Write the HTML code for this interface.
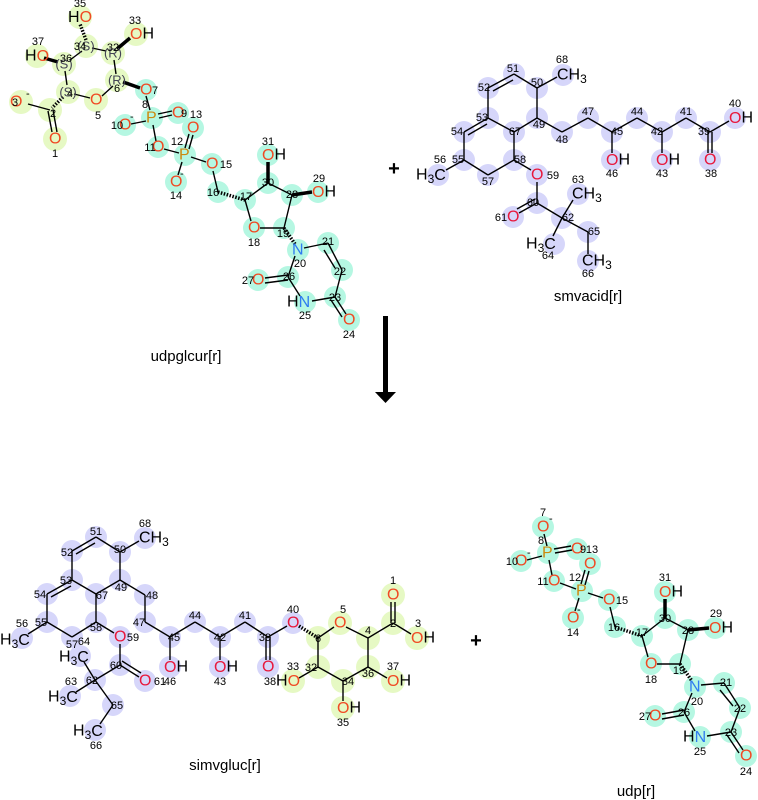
<!DOCTYPE html>
<html><head><meta charset="utf-8"><style>
html,body{margin:0;padding:0;background:#fff;}
svg{display:block;font-family:"Liberation Sans","DejaVu Sans",sans-serif;}
.g circle{fill:#e6f9c4}
.c circle{fill:#b5f7e2}
.v circle{fill:#d6d6fa}
line{stroke:#000;stroke-width:1.4}
.w{stroke-width:3.5}
.n{font-size:11px;text-anchor:middle;fill:#000}
.a{font-size:16px;dominant-baseline:central;fill:#000}
.st{font-size:13px;text-anchor:middle;dominant-baseline:central;fill:#445}
.O{fill:#f04a24}.Or{fill:#e8183c}.P{fill:#cc8a10}.N{fill:#2f7cf0}
.big{font-size:15px;text-anchor:middle;fill:#000}
</style></head><body>
<svg width="758" height="800" viewBox="0 0 758 800" xmlns="http://www.w3.org/2000/svg">
<!-- ========== udpglcur ========== -->
<g class="g">
<circle cx="80" cy="17" r="12"/><circle cx="136" cy="34" r="12"/><circle cx="37" cy="56" r="12"/>
<circle cx="86" cy="46" r="12"/><circle cx="113" cy="53" r="12"/><circle cx="64" cy="64" r="12"/>
<circle cx="117" cy="80" r="12"/><circle cx="68" cy="92" r="12"/><circle cx="96" cy="100" r="12"/>
<circle cx="21" cy="102" r="12"/><circle cx="50" cy="110" r="12"/><circle cx="55" cy="139" r="12"/>
</g>
<g class="c">
<circle cx="146" cy="90" r="11"/><circle cx="152" cy="118" r="11"/><circle cx="178" cy="113" r="11"/>
<circle cx="193" cy="128" r="11"/><circle cx="125" cy="125" r="11"/><circle cx="158" cy="147" r="11"/>
<circle cx="185" cy="155" r="11"/><circle cx="176" cy="182" r="11"/><circle cx="212" cy="164" r="11"/>
<circle cx="218" cy="192" r="11"/><circle cx="245" cy="200" r="11"/><circle cx="268" cy="183" r="11"/>
<circle cx="268" cy="155" r="11"/><circle cx="292" cy="195" r="11"/><circle cx="318" cy="192" r="11"/>
<circle cx="254" cy="228" r="11"/><circle cx="284" cy="228" r="11"/><circle cx="298" cy="250" r="11"/>
<circle cx="328" cy="243" r="11"/><circle cx="342" cy="270" r="11"/><circle cx="288" cy="277" r="11"/>
<circle cx="258" cy="280" r="11"/><circle cx="305" cy="302" r="11"/><circle cx="335" cy="297" r="11"/>
<circle cx="349" cy="320" r="11"/>
</g>
<g>
<line x1="86" y1="40" x2="80" y2="24" stroke-dasharray="1.5 1.5" class="w"/>
<line x1="92" y1="48" x2="106" y2="51"/><line x1="117" y1="49" x2="130" y2="38" class="w"/>
<line x1="82" y1="51" x2="70" y2="60"/><line x1="58" y1="62" x2="44" y2="58" class="w"/>
<line x1="65" y1="71" x2="67" y2="85"/><line x1="74" y1="94" x2="90" y2="98"/>
<line x1="102" y1="96" x2="113" y2="86"/><line x1="116" y1="74" x2="114" y2="60"/>
<line x1="123" y1="82" x2="140" y2="88" class="w"/>
<line x1="63" y1="97" x2="52" y2="108" stroke-dasharray="1.5 1.5" class="w"/>
<line x1="50" y1="110" x2="28" y2="104"/>
<line x1="48" y1="111" x2="52" y2="132"/><line x1="53" y1="110" x2="57" y2="132"/>
<line x1="146" y1="96" x2="150" y2="110"/>
<line x1="158" y1="114" x2="172" y2="111"/><line x1="159" y1="118" x2="172" y2="115"/>
<line x1="146" y1="121" x2="131" y2="124"/><line x1="153" y1="125" x2="156" y2="141"/>
<line x1="164" y1="149" x2="179" y2="153"/>
<line x1="185" y1="148" x2="189" y2="134"/><line x1="189" y1="149" x2="193" y2="135"/>
<line x1="182" y1="162" x2="178" y2="175"/><line x1="191" y1="157" x2="206" y2="162"/>
<line x1="213" y1="171" x2="218" y2="192"/>
<line x1="218" y1="192" x2="245" y2="200" stroke-dasharray="1.5 1.5" class="w"/>
<line x1="245" y1="200" x2="268" y2="183"/><line x1="268" y1="183" x2="268" y2="162" class="w"/>
<line x1="268" y1="183" x2="292" y2="195"/><line x1="292" y1="195" x2="312" y2="192" class="w"/>
<line x1="292" y1="195" x2="284" y2="228"/><line x1="284" y1="228" x2="260" y2="228"/>
<line x1="251" y1="221" x2="245" y2="200"/>
<line x1="284" y1="228" x2="295" y2="244" stroke-dasharray="1.5 1.5" class="w"/>
<line x1="304" y1="248" x2="328" y2="243"/>
<line x1="328" y1="243" x2="342" y2="270"/><line x1="324" y1="250" x2="335" y2="268"/>
<line x1="342" y1="270" x2="335" y2="297"/>
<line x1="335" y1="297" x2="346" y2="314"/><line x1="331" y1="300" x2="342" y2="317"/>
<line x1="335" y1="297" x2="312" y2="301"/><line x1="300" y1="296" x2="288" y2="277"/>
<line x1="288" y1="277" x2="295" y2="256"/>
<line x1="288" y1="275" x2="265" y2="278"/><line x1="288" y1="280" x2="265" y2="283"/>
</g>
<g>
<text class="st" x="86" y="46">(S)</text><text class="st" x="113" y="53">(R)</text>
<text class="st" x="64" y="64">(S)</text><text class="st" x="117" y="80">(R)</text>
<text class="st" x="68" y="92">(S)</text>
<text class="a" x="68" y="17"><tspan>H</tspan><tspan class="O">O</tspan></text>
<text class="a" x="130" y="34"><tspan class="O">O</tspan>H</text>
<text class="a" x="25" y="56">H<tspan class="O">O</tspan></text>
<text class="a O" x="10" y="102">O</text><text class="a" x="26" y="94" style="font-size:11px">-</text>
<text class="a O" x="49" y="139">O</text>
<text class="a O" x="90" y="100">O</text>
<text class="a O" x="140" y="90">O</text>
<text class="a P" x="146" y="118">P</text>
<text class="a O" x="172" y="113">O</text>
<text class="a O" x="187" y="128">O</text>
<text class="a O" x="119" y="125">O</text><text class="a" x="130" y="117" style="font-size:11px">-</text>
<text class="a O" x="152" y="147">O</text>
<text class="a P" x="179" y="155">P</text>
<text class="a O" x="170" y="182">O</text><text class="a" x="180" y="174" style="font-size:11px">-</text>
<text class="a O" x="206" y="164">O</text>
<text class="a" x="262" y="155"><tspan class="O">O</tspan>H</text>
<text class="a" x="312" y="192"><tspan class="O">O</tspan>H</text>
<text class="a O" x="248" y="228">O</text>
<text class="a N" x="292" y="250">N</text>
<text class="a O" x="252" y="280">O</text>
<text class="a" x="287" y="302">H<tspan class="N">N</tspan></text>
<text class="a O" x="343" y="320">O</text>
</g>
<g class="n">
<text x="80" y="7">35</text><text x="135" y="24">33</text><text x="38" y="45">37</text>
<text x="80" y="50">34</text><text x="113" y="51">32</text><text x="66" y="62">36</text>
<text x="117" y="92">6</text><text x="70" y="97">4</text><text x="98" y="119">5</text>
<text x="15" y="106">3</text><text x="53" y="117">2</text><text x="55" y="157">1</text>
<text x="145" y="108">8</text><text x="155" y="94">7</text><text x="184" y="117">9</text>
<text x="196" y="118">13</text><text x="117" y="129">10</text><text x="150" y="151">11</text>
<text x="177" y="145">12</text><text x="176" y="199">14</text><text x="226" y="168">15</text>
<text x="213" y="196">16</text><text x="246" y="200">17</text><text x="268" y="186">30</text>
<text x="268" y="145">31</text><text x="292" y="198">28</text><text x="319" y="182">29</text>
<text x="254" y="246">18</text><text x="283" y="237">19</text><text x="300" y="267">20</text>
<text x="328" y="245">21</text><text x="340" y="275">22</text><text x="289" y="280">26</text>
<text x="248" y="284">27</text><text x="305" y="319">25</text><text x="335" y="301">23</text>
<text x="349" y="338">24</text>
</g>
<text class="big" x="186" y="361">udpglcur[r]</text>

<!-- plus signs & arrow -->
<text x="394" y="175" style="font-size:20px;text-anchor:middle;font-weight:bold">+</text>
<text x="476" y="647" style="font-size:20px;text-anchor:middle;font-weight:bold">+</text>
<rect x="383" y="316" width="5" height="78" fill="#000"/>
<polygon points="375,392 396,392 385.5,403" fill="#000"/>

<!-- ========== smvacid ========== -->
<g class="v">
<circle cx="514" cy="74" r="11"/><circle cx="537" cy="88" r="11"/><circle cx="563" cy="75" r="11"/>
<circle cx="488" cy="88" r="11"/><circle cx="488" cy="118" r="11"/><circle cx="537" cy="118" r="11"/>
<circle cx="514" cy="132" r="11"/><circle cx="464" cy="132" r="11"/><circle cx="464" cy="160" r="11"/>
<circle cx="438" cy="175" r="11"/><circle cx="488" cy="175" r="11"/><circle cx="514" cy="160" r="11"/>
<circle cx="537" cy="175" r="11"/><circle cx="537" cy="203" r="11"/><circle cx="513" cy="217" r="11"/>
<circle cx="562" cy="218" r="11"/><circle cx="578" cy="194" r="11"/><circle cx="554" cy="244" r="11"/>
<circle cx="588" cy="232" r="11"/><circle cx="588" cy="261" r="11"/><circle cx="562" cy="132" r="11"/>
<circle cx="588" cy="118" r="11"/><circle cx="612" cy="132" r="11"/><circle cx="612" cy="160" r="11"/>
<circle cx="637" cy="118" r="11"/><circle cx="662" cy="132" r="11"/><circle cx="662" cy="160" r="11"/>
<circle cx="686" cy="118" r="11"/><circle cx="710" cy="132" r="11"/><circle cx="710" cy="160" r="11"/>
<circle cx="735" cy="118" r="11"/>
</g>
<g>
<line x1="514" y1="74" x2="488" y2="88"/><line x1="513" y1="80" x2="493" y2="91"/>
<line x1="514" y1="74" x2="537" y2="88"/><line x1="537" y1="88" x2="557" y2="77"/>
<line x1="537" y1="88" x2="537" y2="118"/><line x1="488" y1="88" x2="488" y2="118"/>
<line x1="488" y1="118" x2="464" y2="132"/><line x1="487" y1="124" x2="468" y2="135"/>
<line x1="488" y1="118" x2="514" y2="132"/><line x1="514" y1="132" x2="537" y2="118"/>
<line x1="464" y1="132" x2="464" y2="160"/><line x1="464" y1="160" x2="446" y2="170"/>
<line x1="464" y1="160" x2="488" y2="175"/><line x1="488" y1="175" x2="514" y2="160"/>
<line x1="514" y1="160" x2="514" y2="132"/><line x1="514" y1="160" x2="531" y2="170"/>
<line x1="537" y1="182" x2="537" y2="203"/>
<line x1="537" y1="203" x2="519" y2="213"/><line x1="535" y1="199" x2="517" y2="209"/>
<line x1="537" y1="203" x2="562" y2="218"/><line x1="562" y1="218" x2="573" y2="200"/>
<line x1="562" y1="218" x2="553" y2="236"/><line x1="562" y1="218" x2="588" y2="232"/>
<line x1="588" y1="232" x2="588" y2="254"/>
<line x1="537" y1="118" x2="562" y2="132"/><line x1="562" y1="132" x2="588" y2="118"/>
<line x1="588" y1="118" x2="612" y2="132"/><line x1="612" y1="132" x2="612" y2="153"/>
<line x1="612" y1="132" x2="637" y2="118"/><line x1="637" y1="118" x2="662" y2="132"/>
<line x1="662" y1="132" x2="662" y2="153"/><line x1="662" y1="132" x2="686" y2="118"/>
<line x1="686" y1="118" x2="710" y2="132"/>
<line x1="708" y1="132" x2="708" y2="153"/><line x1="712" y1="132" x2="712" y2="153"/>
<line x1="710" y1="132" x2="729" y2="121"/>
</g>
<g>
<text class="a" x="557" y="75">CH<tspan style="font-size:12px" dy="4">3</tspan></text>
<text class="a" x="416" y="175">H<tspan style="font-size:12px" dy="4">3</tspan><tspan dy="-4">C</tspan></text>
<text class="a Or" x="531" y="175">O</text>
<text class="a Or" x="507" y="217">O</text>
<text class="a" x="572" y="194">CH<tspan style="font-size:12px" dy="4">3</tspan></text>
<text class="a" x="526" y="244">H<tspan style="font-size:12px" dy="4">3</tspan><tspan dy="-4">C</tspan></text>
<text class="a" x="582" y="261">CH<tspan style="font-size:12px" dy="4">3</tspan></text>
<text class="a" x="606" y="160"><tspan class="Or">O</tspan>H</text>
<text class="a" x="656" y="160"><tspan class="Or">O</tspan>H</text>
<text class="a Or" x="704" y="160">O</text>
<text class="a" x="729" y="118"><tspan class="Or">O</tspan>H</text>
</g>
<g class="n">
<text x="513" y="72">51</text><text x="537" y="86">50</text><text x="562" y="63">68</text>
<text x="484" y="91">52</text><text x="482" y="121">53</text><text x="539" y="128">49</text>
<text x="515" y="135">67</text><text x="457" y="135">54</text><text x="458" y="163">55</text>
<text x="440" y="163">56</text><text x="488" y="185">57</text><text x="520" y="163">58</text>
<text x="553" y="179">59</text><text x="533" y="206">60</text><text x="501" y="221">61</text>
<text x="568" y="221">62</text><text x="578" y="183">63</text><text x="548" y="259">64</text>
<text x="594" y="235">65</text><text x="588" y="277">66</text><text x="562" y="143">48</text>
<text x="588" y="115">47</text><text x="617" y="135">45</text><text x="612" y="177">46</text>
<text x="637" y="115">44</text><text x="657" y="135">42</text><text x="662" y="177">43</text>
<text x="686" y="115">41</text><text x="704" y="135">39</text><text x="711" y="177">38</text>
<text x="735" y="107">40</text>
</g>
<text class="big" x="588" y="301">smvacid[r]</text>

<!-- ========== simvgluc ========== -->
<g class="v">
<circle cx="96" cy="537" r="11"/><circle cx="72" cy="551" r="11"/><circle cx="120" cy="552" r="11"/>
<circle cx="145" cy="538" r="11"/><circle cx="72" cy="580" r="11"/><circle cx="120" cy="580" r="11"/>
<circle cx="47" cy="594" r="11"/><circle cx="96" cy="594" r="11"/><circle cx="145" cy="595" r="11"/>
<circle cx="47" cy="622" r="11"/><circle cx="96" cy="622" r="11"/><circle cx="145" cy="622" r="11"/>
<circle cx="22" cy="638" r="11"/><circle cx="72" cy="637" r="11"/><circle cx="80" cy="656" r="11"/>
<circle cx="120" cy="637" r="11"/><circle cx="120" cy="665" r="11"/><circle cx="145" cy="681" r="11"/>
<circle cx="95" cy="680" r="11"/><circle cx="70" cy="696" r="11"/><circle cx="113" cy="705" r="11"/>
<circle cx="95" cy="730" r="11"/><circle cx="170" cy="637" r="11"/><circle cx="170" cy="667" r="11"/>
<circle cx="195" cy="622" r="11"/><circle cx="220" cy="637" r="11"/><circle cx="220" cy="667" r="11"/>
<circle cx="245" cy="622" r="11"/><circle cx="268" cy="637" r="11"/><circle cx="268" cy="667" r="11"/>
<circle cx="293" cy="623" r="11"/>
</g>
<g class="g">
<circle cx="318" cy="638" r="12"/><circle cx="340" cy="623" r="12"/><circle cx="368" cy="638" r="12"/>
<circle cx="393" cy="623" r="12"/><circle cx="393" cy="595" r="12"/><circle cx="417" cy="638" r="12"/>
<circle cx="318" cy="667" r="12"/><circle cx="293" cy="681" r="12"/><circle cx="343" cy="681" r="12"/>
<circle cx="343" cy="708" r="12"/><circle cx="368" cy="667" r="12"/><circle cx="393" cy="681" r="12"/>
</g>
<g>
<line x1="96" y1="537" x2="72" y2="551"/><line x1="95" y1="543" x2="76" y2="554"/>
<line x1="96" y1="537" x2="120" y2="552"/><line x1="120" y1="552" x2="139" y2="541"/>
<line x1="120" y1="552" x2="120" y2="580"/><line x1="72" y1="551" x2="72" y2="580"/>
<line x1="72" y1="580" x2="47" y2="594"/><line x1="71" y1="586" x2="51" y2="597"/>
<line x1="72" y1="580" x2="96" y2="594"/><line x1="96" y1="594" x2="120" y2="580"/>
<line x1="120" y1="580" x2="145" y2="595"/><line x1="145" y1="595" x2="145" y2="622"/>
<line x1="145" y1="622" x2="170" y2="637"/><line x1="170" y1="637" x2="170" y2="660"/>
<line x1="170" y1="637" x2="195" y2="622"/><line x1="195" y1="622" x2="220" y2="637"/>
<line x1="220" y1="637" x2="220" y2="660"/><line x1="220" y1="637" x2="245" y2="622"/>
<line x1="245" y1="622" x2="268" y2="637"/>
<line x1="266" y1="637" x2="266" y2="660"/><line x1="270" y1="637" x2="270" y2="660"/>
<line x1="268" y1="637" x2="287" y2="626"/>
<line x1="299" y1="626" x2="318" y2="638" class="w" stroke-dasharray="1.5 1.5"/>
<line x1="318" y1="638" x2="334" y2="627"/><line x1="346" y1="627" x2="368" y2="638"/>
<line x1="368" y1="638" x2="393" y2="623"/>
<line x1="391" y1="623" x2="391" y2="602"/><line x1="395" y1="623" x2="395" y2="602"/>
<line x1="393" y1="623" x2="411" y2="634"/>
<line x1="368" y1="638" x2="368" y2="667"/><line x1="368" y1="667" x2="343" y2="681"/>
<line x1="343" y1="681" x2="318" y2="667"/><line x1="318" y1="667" x2="318" y2="638"/>
<line x1="318" y1="667" x2="299" y2="678"/><line x1="343" y1="681" x2="343" y2="701"/>
<line x1="368" y1="667" x2="387" y2="678"/>
<line x1="96" y1="594" x2="96" y2="622"/><line x1="47" y1="594" x2="47" y2="622"/>
<line x1="47" y1="622" x2="28" y2="634"/><line x1="47" y1="622" x2="72" y2="637"/>
<line x1="72" y1="637" x2="96" y2="622"/><line x1="96" y1="622" x2="114" y2="633"/>
<line x1="120" y1="644" x2="120" y2="665"/>
<line x1="120" y1="665" x2="139" y2="677"/><line x1="122" y1="661" x2="141" y2="673"/>
<line x1="120" y1="665" x2="95" y2="680"/><line x1="95" y1="680" x2="84" y2="662"/>
<line x1="95" y1="680" x2="76" y2="692"/><line x1="95" y1="680" x2="113" y2="705"/>
<line x1="113" y1="705" x2="100" y2="724"/>
</g>
<g>
<text class="a" x="139" y="538">CH<tspan style="font-size:12px" dy="4">3</tspan></text>
<text class="a" x="0" y="640">H<tspan style="font-size:12px" dy="4">3</tspan><tspan dy="-4">C</tspan></text>
<text class="a" x="59" y="657">H<tspan style="font-size:12px" dy="4">3</tspan><tspan dy="-4">C</tspan></text>
<text class="a" x="48" y="697">H<tspan style="font-size:12px" dy="4">3</tspan><tspan dy="-4">C</tspan></text>
<text class="a" x="73" y="731">H<tspan style="font-size:12px" dy="4">3</tspan><tspan dy="-4">C</tspan></text>
<text class="a Or" x="114" y="637">O</text>
<text class="a Or" x="139" y="681">O</text>
<text class="a" x="164" y="667"><tspan class="Or">O</tspan>H</text>
<text class="a" x="214" y="667"><tspan class="Or">O</tspan>H</text>
<text class="a Or" x="262" y="667">O</text>
<text class="a Or" x="287" y="623">O</text>
<text class="a O" x="334" y="623">O</text>
<text class="a O" x="387" y="595">O</text>
<text class="a" x="411" y="638"><tspan class="O">O</tspan>H</text>
<text class="a" x="276" y="681">H<tspan class="O">O</tspan></text>
<text class="a" x="337" y="708"><tspan class="O">O</tspan>H</text>
<text class="a" x="387" y="681"><tspan class="O">O</tspan>H</text>
</g>
<g class="n">
<text x="96" y="535">51</text><text x="120" y="553">50</text><text x="145" y="527">68</text>
<text x="67" y="556">52</text><text x="66" y="584">53</text><text x="121" y="591">49</text>
<text x="40" y="598">54</text><text x="102" y="599">67</text><text x="152" y="599">48</text>
<text x="41" y="626">55</text><text x="96" y="631">58</text><text x="139" y="626">47</text>
<text x="22" y="627">56</text><text x="72" y="648">57</text><text x="84" y="645">64</text>
<text x="133" y="641">59</text><text x="116" y="669">60</text><text x="160" y="685">61</text>
<text x="92" y="684">62</text><text x="71" y="685">63</text><text x="117" y="709">65</text>
<text x="96" y="749">66</text><text x="174" y="641">45</text><text x="170" y="685">46</text>
<text x="195" y="619">44</text><text x="220" y="641">42</text><text x="220" y="685">43</text>
<text x="245" y="619">41</text><text x="265" y="641">39</text><text x="270" y="685">38</text>
<text x="293" y="613">40</text><text x="318" y="642">6</text><text x="343" y="613">5</text>
<text x="368" y="634">4</text><text x="393" y="627">2</text><text x="393" y="584">1</text>
<text x="418" y="627">3</text><text x="311" y="671">32</text><text x="293" y="670">33</text>
<text x="348" y="685">34</text><text x="343" y="726">35</text><text x="368" y="677">36</text>
<text x="393" y="670">37</text>
</g>
<text class="big" x="225" y="770">simvgluc[r]</text>

<!-- ========== udp ========== -->
<g class="c">
<circle cx="543" cy="527" r="11"/><circle cx="548" cy="553" r="11"/><circle cx="577" cy="549" r="11"/>
<circle cx="590" cy="564" r="11"/><circle cx="521" cy="561" r="11"/><circle cx="554" cy="581" r="11"/>
<circle cx="582" cy="591" r="11"/><circle cx="573" cy="618" r="11"/><circle cx="609" cy="600" r="11"/>
<circle cx="615" cy="627" r="11"/><circle cx="642" cy="636" r="11"/><circle cx="665" cy="618" r="11"/>
<circle cx="665" cy="592" r="11"/><circle cx="688" cy="630" r="11"/><circle cx="715" cy="628" r="11"/>
<circle cx="651" cy="664" r="11"/><circle cx="680" cy="664" r="11"/><circle cx="695" cy="687" r="11"/>
<circle cx="724" cy="683" r="11"/><circle cx="740" cy="708" r="11"/><circle cx="684" cy="712" r="11"/>
<circle cx="655" cy="716" r="11"/><circle cx="700" cy="737" r="11"/><circle cx="731" cy="732" r="11"/>
<circle cx="746" cy="756" r="11"/>
</g>
<g>
<line x1="544" y1="534" x2="547" y2="546"/>
<line x1="554" y1="549" x2="571" y2="546"/><line x1="555" y1="553" x2="572" y2="550"/>
<line x1="542" y1="556" x2="527" y2="560"/><line x1="549" y1="560" x2="552" y2="575"/>
<line x1="560" y1="583" x2="576" y2="589"/>
<line x1="581" y1="584" x2="585" y2="570"/><line x1="585" y1="585" x2="589" y2="571"/>
<line x1="579" y1="598" x2="575" y2="611"/><line x1="588" y1="593" x2="603" y2="598"/>
<line x1="610" y1="607" x2="615" y2="627"/>
<line x1="615" y1="627" x2="642" y2="636" stroke-dasharray="1.5 1.5" class="w"/>
<line x1="642" y1="636" x2="665" y2="618"/><line x1="665" y1="618" x2="665" y2="599" class="w"/>
<line x1="665" y1="618" x2="688" y2="630"/><line x1="688" y1="630" x2="709" y2="628" class="w"/>
<line x1="688" y1="630" x2="680" y2="664"/><line x1="680" y1="664" x2="657" y2="664"/>
<line x1="648" y1="657" x2="642" y2="636"/>
<line x1="680" y1="664" x2="692" y2="681" stroke-dasharray="1.5 1.5" class="w"/>
<line x1="701" y1="685" x2="724" y2="683"/>
<line x1="724" y1="683" x2="740" y2="708"/><line x1="720" y1="690" x2="733" y2="706"/>
<line x1="740" y1="708" x2="731" y2="732"/>
<line x1="731" y1="732" x2="743" y2="750"/><line x1="727" y1="735" x2="739" y2="753"/>
<line x1="731" y1="732" x2="707" y2="736"/><line x1="695" y1="731" x2="684" y2="712"/>
<line x1="684" y1="712" x2="692" y2="693"/>
<line x1="684" y1="710" x2="662" y2="714"/><line x1="684" y1="715" x2="662" y2="719"/>
</g>
<g>
<text class="a O" x="537" y="527">O</text><text class="a" x="549" y="519" style="font-size:11px">-</text>
<text class="a P" x="542" y="553">P</text>
<text class="a O" x="571" y="549">O</text>
<text class="a O" x="584" y="564">O</text>
<text class="a O" x="515" y="561">O</text><text class="a" x="527" y="553" style="font-size:11px">-</text>
<text class="a O" x="548" y="581">O</text>
<text class="a P" x="576" y="591">P</text>
<text class="a O" x="567" y="618">O</text><text class="a" x="577" y="610" style="font-size:11px">-</text>
<text class="a O" x="603" y="600">O</text>
<text class="a" x="659" y="592"><tspan class="O">O</tspan>H</text>
<text class="a" x="709" y="628"><tspan class="O">O</tspan>H</text>
<text class="a O" x="645" y="664">O</text>
<text class="a N" x="689" y="687">N</text>
<text class="a O" x="649" y="716">O</text>
<text class="a" x="683" y="737">H<tspan class="N">N</tspan></text>
<text class="a O" x="740" y="756">O</text>
</g>
<g class="n">
<text x="543" y="516">7</text><text x="541" y="544">8</text><text x="583" y="553">9</text>
<text x="592" y="553">13</text><text x="512" y="565">10</text><text x="543" y="585">11</text>
<text x="575" y="581">12</text><text x="573" y="636">14</text><text x="622" y="604">15</text>
<text x="614" y="631">16</text><text x="642" y="636">17</text><text x="665" y="622">30</text>
<text x="665" y="581">31</text><text x="688" y="634">28</text><text x="716" y="617">29</text>
<text x="651" y="683">18</text><text x="679" y="674">19</text><text x="697" y="705">20</text>
<text x="726" y="686">21</text><text x="740" y="712">22</text><text x="684" y="716">26</text>
<text x="645" y="720">27</text><text x="700" y="755">25</text><text x="731" y="736">23</text>
<text x="746" y="775">24</text>
</g>
<text class="big" x="636" y="796">udp[r]</text>
</svg>
</body></html>
